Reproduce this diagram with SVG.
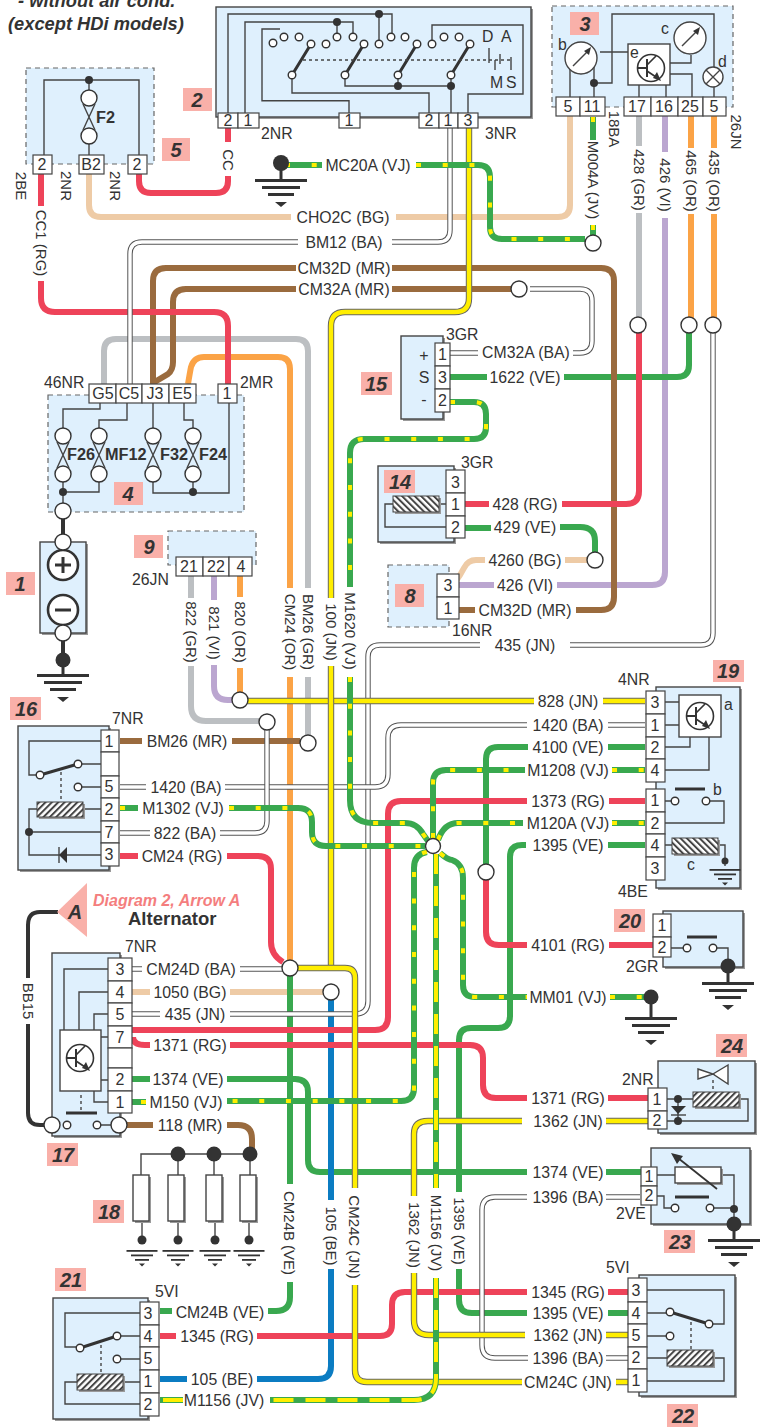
<svg xmlns="http://www.w3.org/2000/svg" width="771" height="1428" viewBox="0 0 771 1428">
<style>
text{font-family:"Liberation Sans",Arial,sans-serif;fill:#333}
.t{font-size:15.8px;text-anchor:middle}
.q{font-size:15px;text-anchor:middle}
.n{font-size:15.8px}
.c{font-size:16px;text-anchor:middle}
.p{font-size:20px;font-weight:bold;font-style:italic;text-anchor:middle}
.f{font-size:16.3px;font-weight:bold}
.pk{fill:#f9b0a9}
.w{fill:none;stroke-width:6}
.red{stroke:#ee4359}.org{stroke:#fba346}.grn{stroke:#39a84f}.brn{stroke:#9a6b3e}.tan{stroke:#eecba6}.vio{stroke:#bba6d0}.gry{stroke:#bcbfc2}.blu{stroke:#0b7cc2}.blk{stroke:#333;stroke-width:4}
.ba1{stroke:#555;stroke-width:5.4;fill:none}.ba2{stroke:#fff;stroke-width:3.4;fill:none}
.jn1{stroke:#666;stroke-width:6.4;fill:none}.jn2{stroke:#ffee00;stroke-width:4.4;fill:none}
.vj1{stroke:#39a84f;stroke-width:6;fill:none}.vj2{stroke:#ffee00;stroke-width:4;fill:none;stroke-dasharray:5 21.7}
.jv2{stroke:#ffee00;stroke-width:4;fill:none;stroke-dasharray:20 12}
.b{fill:#dff0fd;stroke:#444;stroke-width:1.4}
.sh{fill:#9a9a9a}
.d{fill:#dff0fd;stroke:#666;stroke-width:1.2;stroke-dasharray:5 4}
.cell{fill:#fff;stroke:#444;stroke-width:1.2}
.l{fill:none;stroke:#444;stroke-width:1.4}
.th{fill:none;stroke:#333;stroke-width:3}
.dot{fill:#333}
.o{fill:#fff;stroke:#333;stroke-width:1.4}
.j{fill:#fff;stroke:#333;stroke-width:1.4}
.dsh{fill:none;stroke:#444;stroke-width:1.4;stroke-dasharray:3 3}
.wb{fill:#fff;stroke:#444;stroke-width:1.4}
</style>
<defs>
<pattern id="h1" width="4.5" height="4.5" patternUnits="userSpaceOnUse" patternTransform="rotate(45)"><rect width="4.5" height="4.5" fill="#fff"/><rect width="2" height="4.5" fill="#444"/></pattern>
<pattern id="h2" width="4.5" height="4.5" patternUnits="userSpaceOnUse" patternTransform="rotate(-45)"><rect width="4.5" height="4.5" fill="#fff"/><rect width="2" height="4.5" fill="#444"/></pattern>
<g id="tr"><circle r="13.5" fill="#fff" stroke="#333" stroke-width="1.6"/><path d="M-13,0H-4M-4,-9V9" fill="none" stroke="#333" stroke-width="2"/><path d="M-4,-3L5,-12M-4,3L5,9" fill="none" stroke="#333" stroke-width="1.6"/><path d="M10,13L2,10L6,4Z" fill="#333"/></g>
<g id="gb"><rect x="-26" y="0" width="52" height="3" fill="#333"/><rect x="-19" y="7" width="38" height="3" fill="#333"/><rect x="-13" y="14" width="26" height="3" fill="#333"/><path d="M-6,23H6L0,28Z" fill="#333"/></g>
<g id="gs"><rect x="-15.500" y="0" width="31" height="1.800" fill="#333"/><rect x="-11" y="4.500" width="22" height="1.800" fill="#333"/><rect x="-7" y="9" width="14" height="1.800" fill="#333"/><path d="M-3,13.500H3L0,16.500Z" fill="#333"/></g>
<g id="fuse"><circle cy="-19" r="8" class="o"/><circle cy="19" r="8" class="o"/><path d="M-6,-13L6,13M6,-13L-6,13" class="l"/></g>
<path id="a1" d="M285,165H322M416,165H478Q490,165 490,177V227Q490,239 502,239H585"/>
<path id="a2" d="M593,117V140M593,225V235"/>
<path id="a3" d="M450,402H474Q486,402 486,414V427Q486,439 474,439H364Q350,439 350,453V587M350,677V800Q350,823 373,823H405Q417,823 423,834L428,841"/>
<path id="a4" d="M120,808H138M229,808H298Q312,808 312,822V832Q312,846 326,846H425"/>
<path id="a5" d="M433,838V783Q433,770 446,770H525M612,770H645"/>
<path id="a6" d="M438,840Q444,823 458,823H523M612,823H645"/>
<path id="a7" d="M427,852Q414,854 414,868V1088Q414,1101 401,1101H227M146,1102H132"/>
<path id="a8" d="M440,853Q448,860 452,860Q463,864 463,878V985Q463,997 475,997H527M610,997H650"/>
<path id="a9" d="M436,854V1188M436,1278V1378Q436,1400 414,1400H270M183,1400H160"/>
<path id="b1" d="M240,701H534M603,701H645"/>
<path id="b2" d="M469,128V298Q469,312 455,312H345Q331,312 331,326V598M331,666V968"/>
<path id="b3" d="M290,968H345Q355,968 355,978V1188M355,1285V1370Q355,1382 367,1382H522M616,1382H628"/>
<path id="b4" d="M522,1121H428Q414,1121 414,1134V1196M414,1273V1320Q414,1335 429,1335H525M606,1335H628M606,1121H648"/>
<path id="c1" d="M450,128V230Q450,242 438,242H392M298,242H142Q130,242 130,254V385"/>
<path id="c2" d="M530,289H580Q592,289 592,301V341Q592,353 580,353H573M478,353H450"/>
<path id="c3" d="M713,333V633Q713,645 701,645H570M480,645H380Q368,645 368,657V1001Q368,1014 355,1014H230M160,1014H132"/>
<path id="c4" d="M120,787H146M225,787H375Q388,787 388,774V738Q388,725 401,725H527M608,725H645"/>
<path id="c5" d="M120,833H150M220,833H255Q267,833 267,821V730"/>
<path id="c6" d="M132,969H142M240,969H283"/>
<path id="c7" d="M628,1358H606M528,1358H495Q482,1358 482,1345V1210Q482,1197 495,1197H527M606,1197H640"/>
</defs>
<g id="title"><text x="18" y="7" style="font-size:18.300px;font-weight:bold;font-style:italic">- without air cond.</text><text x="8" y="30" style="font-size:18.300px;font-weight:bold;font-style:italic">(except HDi models)</text></g>
<g id="connectors">
<g class="w">
<path class="tan" d="M89,173V205Q89,217 101,217H291M396,217H558Q570,217 570,205V116M132,992H150M230,992H325M565,560H588M485,560H476Q468,560 464,568Q460,576 455,582"/>
<path class="gry" d="M639,116V146M639,213V320M104,385V351Q104,339 116,339H296Q308,339 308,351V588M308,677V735M191,576V598M191,666V706Q191,721 206,721H259"/>
<path class="vio" d="M665,116V152M665,218V572Q665,585 652,585H557M494,585H459M214,576V600M214,665V686Q214,700 228,700H233"/>
<path class="org" d="M691,116V148M691,214V318M714,116V148M714,214V318M240,576V597M240,668V692M188,384Q190,372 191,367Q194,357 204,357H278Q290,357 290,369V588M290,677V962"/>
<path class="grn" d="M689,333V365Q689,377 677,377H564M487,377H450M465,528H491M560,527H580Q595,527 595,541V552M645,747H608M528,747H498Q486,747 486,759V865M290,976V1184M290,1282V1297Q290,1311 276,1311H268M172,1311H160M645,845H608M526,845H522Q510,845 510,857V1016Q510,1028 498,1028H471Q459,1028 459,1040V1192M459,1269V1300Q459,1313 472,1313H527M608,1313H628M132,1079H150M227,1079H295Q308,1079 308,1092V1160Q308,1172 320,1172H527M606,1172H642"/>
<path class="brn" d="M153,385V281Q153,268 166,268H296M392,268H601Q614,268 614,281V597Q614,610 601,610H576M475,610H459M153,383L168,374Q173,370 173,362V302Q173,289 186,289H296M392,289H512M120,741H142M232,741H300M127,1125H153M227,1125H238Q252,1125 252,1139V1150"/>
<path class="blu" d="M331,1000V1200M331,1269V1366Q331,1379 318,1379H257M187,1379H160"/>
<path class="red" d="M228,128V142M228,176V181Q228,193 216,193H151Q139,193 139,181V173M41,173V206M41,281V298Q41,312 55,312H214Q228,312 228,326V385M639,330V491Q639,504 626,504H562M489,504H465M120,856H138M227,856H258Q271,856 271,869V942Q271,955 283,962M486,880V932Q486,945 499,945H527M609,945H653M132,1030H375Q388,1030 388,1017V814Q388,801 401,801H527M609,801H645M133,1037Q133,1045 145,1045H150M230,1045H470Q483,1045 483,1058V1085Q483,1098 496,1098H527M608,1098H648M160,1336H176M257,1336H380Q392,1336 392,1324V1305Q392,1292 405,1292H527M608,1292H628"/>
<path class="blk" d="M44,1125H40Q28,1125 28,1113V1024M28,978V925Q28,912 40,912H58M63,519V535M63,641V660"/>
</g>
<g><use href="#c1" class="ba1"/><use href="#c1" class="ba2"/><use href="#c2" class="ba1"/><use href="#c2" class="ba2"/><use href="#c3" class="ba1"/><use href="#c3" class="ba2"/><use href="#c4" class="ba1"/><use href="#c4" class="ba2"/><use href="#c5" class="ba1"/><use href="#c5" class="ba2"/><use href="#c6" class="ba1"/><use href="#c6" class="ba2"/><use href="#c7" class="ba1"/><use href="#c7" class="ba2"/></g>
<g><use href="#b1" class="jn1"/><use href="#b1" class="jn2"/><use href="#b2" class="jn1"/><use href="#b2" class="jn2"/><use href="#b3" class="jn1"/><use href="#b3" class="jn2"/><use href="#b4" class="jn1"/><use href="#b4" class="jn2"/></g>
<g><use href="#a1" class="vj1"/><use href="#a1" class="vj2"/><use href="#a2" class="vj1"/><use href="#a2" class="vj2"/><use href="#a3" class="vj1"/><use href="#a3" class="vj2"/><use href="#a4" class="vj1"/><use href="#a4" class="vj2"/><use href="#a5" class="vj1"/><use href="#a5" class="vj2"/><use href="#a6" class="vj1"/><use href="#a6" class="vj2"/><use href="#a7" class="vj1"/><use href="#a7" class="vj2"/><use href="#a8" class="vj1"/><use href="#a8" class="vj2"/><use href="#a9" class="vj1"/><use href="#a9" class="jv2"/></g>
<g id="junctions"><circle class="j" cx="593" cy="243" r="8"/><circle class="j" cx="638" cy="325" r="8"/><circle class="j" cx="689" cy="325" r="8"/><circle class="j" cx="713" cy="325" r="8"/><circle class="j" cx="519" cy="289" r="8"/><circle class="j" cx="595" cy="560" r="8"/><circle class="j" cx="240" cy="700" r="8"/><circle class="j" cx="267" cy="722" r="8"/><circle class="j" cx="308" cy="743" r="8"/><circle class="j" cx="433" cy="846" r="7.500"/><circle class="j" cx="486" cy="872" r="8"/><circle class="j" cx="290" cy="968" r="8"/><circle class="j" cx="331" cy="992" r="8"/></g>
<g id="wire-labels">
<text class="t" x="368" y="171">MC20A (VJ)</text><text class="t" x="343" y="223">CHO2C (BG)</text><text class="t" x="344" y="248">BM12 (BA)</text><text class="t" x="344" y="274">CM32D (MR)</text><text class="t" x="344" y="295">CM32A (MR)</text><text class="t" x="526" y="358">CM32A (BA)</text><text class="t" x="525" y="383">1622 (VE)</text><text class="t" x="525" y="510">428 (RG)</text><text class="t" x="525" y="533">429 (VE)</text><text class="t" x="525" y="566">4260 (BG)</text><text class="t" x="525" y="591">426 (VI)</text><text class="t" x="525" y="616">CM32D (MR)</text><text class="t" x="525" y="651">435 (JN)</text>
<text class="t" x="568" y="707">828 (JN)</text><text class="t" x="568" y="731">1420 (BA)</text><text class="t" x="568" y="753">4100 (VE)</text><text class="t" x="568" y="776">M1208 (VJ)</text><text class="t" x="568" y="807">1373 (RG)</text><text class="t" x="568" y="829">M120A (VJ)</text><text class="t" x="568" y="851">1395 (VE)</text><text class="t" x="568" y="951">4101 (RG)</text><text class="t" x="568" y="1003">MM01 (VJ)</text><text class="t" x="568" y="1104">1371 (RG)</text><text class="t" x="568" y="1127">1362 (JN)</text><text class="t" x="568" y="1178">1374 (VE)</text><text class="t" x="568" y="1203">1396 (BA)</text><text class="t" x="568" y="1298">1345 (RG)</text><text class="t" x="568" y="1319">1395 (VE)</text><text class="t" x="568" y="1341">1362 (JN)</text><text class="t" x="568" y="1364">1396 (BA)</text><text class="t" x="568" y="1388">CM24C (JN)</text>
<text class="t" x="187" y="747">BM26 (MR)</text><text class="t" x="186" y="793">1420 (BA)</text><text class="t" x="183" y="814">M1302 (VJ)</text><text class="t" x="185" y="839">822 (BA)</text><text class="t" x="182" y="862">CM24 (RG)</text><text class="t" x="191" y="975">CM24D (BA)</text><text class="t" x="190" y="998">1050 (BG)</text><text class="t" x="195" y="1020">435 (JN)</text><text class="t" x="190" y="1051">1371 (RG)</text><text class="t" x="188" y="1085">1374 (VE)</text><text class="t" x="186" y="1108">M150 (VJ)</text><text class="t" x="190" y="1131">118 (MR)</text><text class="t" x="220" y="1318">CM24B (VE)</text><text class="t" x="217" y="1342">1345 (RG)</text><text class="t" x="222" y="1385">105 (BE)</text><text class="t" x="224" y="1406">M1156 (JV)</text>
<text class="q" transform="translate(228,160) rotate(90)" y="5.500">CC</text><text class="q" transform="translate(41,243) rotate(90)" y="5.500">CC1 (RG)</text><text class="q" transform="translate(593,180) rotate(90)" y="5.500">M004A (JV)</text><text class="q" transform="translate(639,180) rotate(90)" y="5.500">428 (GR)</text><text class="q" transform="translate(665,185) rotate(90)" y="5.500">426 (VI)</text><text class="q" transform="translate(691,181) rotate(90)" y="5.500">465 (OR)</text><text class="q" transform="translate(714,181) rotate(90)" y="5.500">435 (OR)</text><text class="q" transform="translate(191,632) rotate(90)" y="5.500">822 (GR)</text><text class="q" transform="translate(214,633) rotate(90)" y="5.500">821 (VI)</text><text class="q" transform="translate(240,632) rotate(90)" y="5.500">820 (OR)</text><text class="q" transform="translate(290,632) rotate(90)" y="5.500">CM24 (OR)</text><text class="q" transform="translate(308,632) rotate(90)" y="5.500">BM26 (GR)</text><text class="q" transform="translate(331,632) rotate(90)" y="5.500">100 (JN)</text><text class="q" transform="translate(350,631) rotate(90)" y="5.500">M1620 (VJ)</text><text class="q" transform="translate(331,1236) rotate(90)" y="5.500">105 (BE)</text><text class="q" transform="translate(289,1233) rotate(90)" y="5.500">CM24B (VE)</text><text class="q" transform="translate(354,1237) rotate(90)" y="5.500">CM24C (JN)</text><text class="q" transform="translate(414,1235) rotate(90)" y="5.500">1362 (JN)</text><text class="q" transform="translate(436,1233) rotate(90)" y="5.500">M1156 (JV)</text><text class="q" transform="translate(459,1231) rotate(90)" y="5.500">1395 (VE)</text><text class="q" transform="translate(28,1001) rotate(90)" y="5.500">BB15</text>
</g>
</g>
<g id="n2">
<rect class="sh" x="218" y="9" width="315" height="110"/><rect class="b" x="216" y="7" width="315" height="110"/>
<path class="l" d="M228,113V14H392V33M245,113V22H353V33M337,22V33M379,14V40M349,113V100.700H262V29H280M292,79V93H429V113M345,79V86H451M398,79V86M451,79V113M468,113V94H523V25H432V40"/>
<path class="th" d="M292,75L311,44M345,75L364,44M398,75L417,44M451,75L470,44"/>
<path class="dsh" style="stroke-width:1.6" d="M303,60H512"/>
<path class="l" d="M489,48V63M500,54V64M511,57V70M495,60V70"/>
<circle class="dot" cx="337" cy="22" r="4"/><circle class="dot" cx="379" cy="14" r="4"/><circle class="dot" cx="398" cy="86" r="4"/><circle class="dot" cx="451" cy="86" r="4"/>
<g><circle class="o" cx="273" cy="43" r="3.800"/><circle class="o" cx="284" cy="37" r="3.800"/><circle class="o" cx="299" cy="37" r="3.800"/><circle class="o" cx="311" cy="44" r="3.800"/><circle class="o" cx="326" cy="44" r="3.800"/><circle class="o" cx="337" cy="37" r="3.800"/><circle class="o" cx="353" cy="37" r="3.800"/><circle class="o" cx="364" cy="44" r="3.800"/><circle class="o" cx="379" cy="44" r="3.800"/><circle class="o" cx="391" cy="37" r="3.800"/><circle class="o" cx="405" cy="37" r="3.800"/><circle class="o" cx="417" cy="44" r="3.800"/><circle class="o" cx="432" cy="44" r="3.800"/><circle class="o" cx="444" cy="37" r="3.800"/><circle class="o" cx="459" cy="37" r="3.800"/><circle class="o" cx="470" cy="44" r="3.800"/><circle class="o" cx="292" cy="75" r="3.800"/><circle class="o" cx="345" cy="75" r="3.800"/><circle class="o" cx="398" cy="75" r="3.800"/><circle class="o" cx="451" cy="75" r="3.800"/></g>
<text class="n" x="482" y="42">D</text><text class="n" x="501" y="42">A</text><text class="n" x="490" y="88">M</text><text class="n" x="506" y="88">S</text>
<rect class="cell" x="218" y="113" width="20" height="15"/><rect class="cell" x="238" y="113" width="21" height="15"/><rect class="cell" x="339" y="113" width="21" height="15"/><rect class="cell" x="419" y="113" width="20" height="15"/><rect class="cell" x="439" y="113" width="19" height="15"/><rect class="cell" x="458" y="113" width="20" height="15"/>
<text class="c" x="228" y="126">2</text><text class="c" x="248" y="126">1</text><text class="c" x="349" y="126">1</text><text class="c" x="429" y="126">2</text><text class="c" x="448" y="126">1</text><text class="c" x="468" y="126">3</text>
<text class="n" x="261" y="139">2NR</text><text class="n" x="485" y="139">3NR</text>
<rect class="pk" x="183" y="88" width="29" height="23"/><text class="p" x="197" y="107">2</text>
</g>
<g id="n3">
<rect class="d" x="552" y="6" width="181" height="101"/>
<path class="l" d="M570,97V58M594,97V66M594,83H612V14H714V70M600,52H628M639,85V97M666,85V97M691,55V63H670M692,97V74H670M714,87V97"/>
<circle class="dot" cx="594" cy="83" r="4"/>
<circle cx="581" cy="58" r="16" fill="#fff" stroke="#444" stroke-width="1.400"/><path class="l" d="M573,66L589,50"/><path class="dot" d="M591,47L589,55L584,51Z"/>
<circle cx="690" cy="38" r="16" fill="#fff" stroke="#444" stroke-width="1.400"/><path class="l" d="M682,46L698,30"/><path class="dot" d="M700,27L698,35L693,31Z"/>
<circle cx="713" cy="77" r="10" fill="#fff" stroke="#444" stroke-width="1.400"/><path class="l" d="M706,70L720,84M720,70L706,84"/>
<rect class="wb" x="628" y="44" width="42" height="41"/><use href="#tr" x="651" y="68"/>
<text class="n" x="558" y="50">b</text><text class="n" x="661" y="34">c</text><text class="n" x="718" y="67">d</text><text class="n" x="630" y="58">e</text>
<rect class="cell" x="556" y="97" width="24" height="19"/><rect class="cell" x="580" y="97" width="25" height="19"/><rect class="cell" x="624" y="97" width="27" height="19"/><rect class="cell" x="651" y="97" width="27" height="19"/><rect class="cell" x="678" y="97" width="25" height="19"/><rect class="cell" x="703" y="97" width="23" height="19"/>
<text class="c" x="568" y="112">5</text><text class="c" x="592" y="112">11</text><text class="c" x="637" y="112">17</text><text class="c" x="664" y="112">16</text><text class="c" x="690" y="112">25</text><text class="c" x="714" y="112">5</text>
<text class="q" transform="translate(614,129) rotate(90)" y="5.500">18BA</text><text class="q" transform="translate(736,132) rotate(90)" y="5.500">26JN</text>
<rect class="pk" x="570" y="12" width="29" height="23"/><text class="p" x="585" y="31">3</text>
</g>
<g id="n5">
<rect class="d" x="26" y="68" width="128" height="96"/>
<path class="l" d="M44,155V80H139V155M89,80V90M89,144V155"/><circle class="dot" cx="89" cy="80" r="4"/>
<use href="#fuse" x="89" y="117"/><text class="f" x="96" y="123">F2</text>
<rect class="cell" x="33" y="155" width="19" height="19"/><rect class="cell" x="79" y="155" width="25" height="19"/><rect class="cell" x="128" y="155" width="19" height="19"/>
<text class="c" x="42" y="170">2</text><text class="c" x="91" y="170">B2</text><text class="c" x="137" y="170">2</text>
<text class="q" transform="translate(21,186) rotate(90)" y="5.500">2BE</text><text class="q" transform="translate(66,186) rotate(90)" y="5.500">2NR</text><text class="q" transform="translate(115,186) rotate(90)" y="5.500">2NR</text>
<rect class="pk" x="162" y="138" width="28" height="23"/><text class="p" x="176" y="157">5</text>
</g>
<g id="g-mc20"><circle class="dot" cx="281" cy="163" r="8"/><path class="th" d="M281,168V180"/><use href="#gb" x="281" y="179"/></g>
<g id="n4">
<rect class="d" x="48" y="395" width="196" height="117"/>
<path class="l" d="M100,403V409H63V428M127,403V420H99V428M153,403V428M184,403V420H193V428M63,482V503M63,492H99V482M153,482V493H229V403M193,482V493"/>
<circle class="dot" cx="63" cy="492" r="4"/><circle class="dot" cx="193" cy="492" r="4"/>
<use href="#fuse" x="63" y="455"/><use href="#fuse" x="99" y="455"/><use href="#fuse" x="153" y="455"/><use href="#fuse" x="193" y="455"/>
<text class="f" x="67" y="460">F26</text><text class="f" x="105" y="460">MF12</text><text class="f" x="160" y="460">F32</text><text class="f" x="199" y="460">F24</text>
<rect class="cell" x="89" y="384" width="27" height="19"/><rect class="cell" x="116" y="384" width="26" height="19"/><rect class="cell" x="142" y="384" width="27" height="19"/><rect class="cell" x="169" y="384" width="27" height="19"/><rect class="cell" x="218" y="384" width="19" height="19"/>
<text class="c" x="103" y="399">G5</text><text class="c" x="129" y="399">C5</text><text class="c" x="155" y="399">J3</text><text class="c" x="182" y="399">E5</text><text class="c" x="227" y="399">1</text>
<text class="n" x="44" y="388">46NR</text><text class="n" x="240" y="388">2MR</text>
<circle class="j" cx="63" cy="511" r="8"/>
<rect class="pk" x="114" y="482" width="29" height="23"/><text class="p" x="128" y="501">4</text>
</g>
<g id="n1">
<rect class="sh" x="42" y="544" width="46" height="91"/><rect class="b" x="40" y="542" width="46" height="91"/>
<circle cx="63" cy="565" r="15" fill="#fff" stroke="#333" stroke-width="2.600"/><path class="th" d="M55,565H71M63,557V573"/>
<circle cx="63" cy="610" r="15" fill="#fff" stroke="#333" stroke-width="2.600"/><path class="th" d="M55,610H71"/>
<circle class="j" cx="63" cy="542" r="8"/><circle class="j" cx="63" cy="633" r="8"/>
<circle class="dot" cx="63" cy="660" r="7.500"/><path class="th" d="M63,665V675"/><use href="#gb" x="63" y="674"/>
<rect class="pk" x="6" y="572" width="29" height="23"/><text class="p" x="20" y="591">1</text>
</g>
<g id="n9">
<rect class="d" x="168" y="531" width="88" height="34"/>
<rect class="cell" x="176" y="557" width="27" height="19"/><rect class="cell" x="203" y="557" width="26" height="19"/><rect class="cell" x="229" y="557" width="23" height="19"/>
<text class="c" x="189" y="572">21</text><text class="c" x="216" y="572">22</text><text class="c" x="241" y="572">4</text>
<text class="n" x="132" y="585">26JN</text>
<rect class="pk" x="134" y="535" width="29" height="23"/><text class="p" x="149" y="554">9</text>
</g>
<g id="n15">
<rect class="sh" x="403" y="338" width="42" height="83"/><rect class="b" x="401" y="336" width="42" height="83"/>
<text class="c" x="424" y="361">+</text><text class="c" x="424" y="383">S</text><text class="c" x="424" y="405">-</text>
<rect class="cell" x="435" y="343" width="15" height="23"/><rect class="cell" x="435" y="366" width="15" height="23"/><rect class="cell" x="435" y="389" width="15" height="23"/>
<text class="c" x="442.500" y="360">1</text><text class="c" x="442.500" y="383">3</text><text class="c" x="442.500" y="406">2</text>
<text class="n" x="446" y="340">3GR</text>
<rect class="pk" x="361" y="372" width="31" height="23"/><text class="p" x="376" y="391">15</text>
</g>
<g id="n14">
<rect class="sh" x="380" y="468" width="76" height="76"/><rect class="b" x="378" y="466" width="76" height="76"/>
<path class="l" d="M439,504H446M393,504H385V527H446"/>
<rect class="sh" x="395" y="498" width="46" height="16"/><rect x="393" y="496" width="46" height="16" fill="url(#h2)" stroke="#444"/>
<rect class="cell" x="446" y="470" width="19" height="23"/><rect class="cell" x="446" y="493" width="19" height="23"/><rect class="cell" x="446" y="516" width="19" height="22"/>
<text class="c" x="455.500" y="488">3</text><text class="c" x="455.500" y="510">1</text><text class="c" x="455.500" y="533">2</text>
<text class="n" x="461" y="468">3GR</text>
<rect class="pk" x="384" y="470" width="31" height="23"/><text class="p" x="400" y="489">14</text>
</g>
<g id="n8">
<rect class="d" x="388" y="565" width="61" height="62"/>
<rect class="cell" x="437" y="574" width="22" height="23"/><rect class="cell" x="437" y="597" width="22" height="22"/>
<text class="c" x="448" y="591">3</text><text class="c" x="448" y="614">1</text>
<text class="n" x="452" y="636">16NR</text>
<rect class="pk" x="395" y="584" width="29" height="23"/><text class="p" x="410" y="603">8</text>
</g>
<g id="n16">
<rect class="sh" x="20" y="728" width="91" height="144"/><rect class="b" x="18" y="726" width="91" height="144"/>
<path class="l" d="M101,741H29V775H40M78,764H101M78,787H101M83,809H101M37,809H29V855H101M29,832H101"/>
<path class="th" d="M40,775L78,764"/><path class="dsh" d="M61,772V802"/>
<rect class="sh" x="39" y="804" width="46" height="15"/><rect x="37" y="802" width="46" height="15" fill="url(#h1)" stroke="#444"/>
<circle class="dot" cx="29" cy="832" r="4"/><path class="dot" d="M59,855L67,847V863Z"/><path class="l" d="M59,847V863"/>
<circle class="o" cx="40" cy="775" r="3.800"/><circle class="o" cx="78" cy="764" r="3.800"/><circle class="o" cx="78" cy="787" r="3.800"/>
<rect class="cell" x="101" y="730" width="18" height="22"/><rect class="cell" x="101" y="752" width="18" height="24"/><rect class="cell" x="101" y="776" width="18" height="22"/><rect class="cell" x="101" y="798" width="18" height="23"/><rect class="cell" x="101" y="821" width="18" height="22"/><rect class="cell" x="101" y="843" width="18" height="23"/>
<text class="c" x="109" y="747">1</text><text class="c" x="109" y="792">5</text><text class="c" x="109" y="815">2</text><text class="c" x="109" y="838">7</text><text class="c" x="109" y="860">3</text>
<text class="n" x="112" y="724">7NR</text>
<rect class="pk" x="10" y="697" width="31" height="23"/><text class="p" x="26" y="716">16</text>
</g>
<g id="n19">
<rect class="sh" x="658" y="689" width="84" height="201"/><rect class="b" x="656" y="687" width="84" height="201"/>
<path class="l" d="M665,702H679M665,725H679M665,747H690V737M665,770H709V737M665,801H675M706,801H724V823H665M665,845H672M717,845H725V866"/>
<rect class="wb" x="679" y="695" width="42" height="42"/><use href="#tr" x="700" y="716"/>
<text class="n" x="724" y="710">a</text>
<path class="th" d="M675,789H705"/><circle class="o" cx="675" cy="801" r="3.800"/><circle class="o" cx="706" cy="801" r="3.800"/><text class="n" x="713" y="795">b</text>
<rect class="sh" x="674" y="840" width="46" height="16"/><rect x="672" y="838" width="46" height="16" fill="url(#h2)" stroke="#444"/><text class="n" x="687" y="870">c</text>
<circle class="dot" cx="725" cy="861" r="3.500"/><use href="#gs" x="725" y="869"/>
<rect class="cell" x="646" y="691" width="19" height="23"/><rect class="cell" x="646" y="714" width="19" height="23"/><rect class="cell" x="646" y="737" width="19" height="22"/><rect class="cell" x="646" y="759" width="19" height="23"/><rect class="cell" x="646" y="789" width="19" height="23"/><rect class="cell" x="646" y="812" width="19" height="22"/><rect class="cell" x="646" y="834" width="19" height="23"/><rect class="cell" x="646" y="857" width="19" height="23"/>
<text class="c" x="655" y="708">3</text><text class="c" x="655" y="731">1</text><text class="c" x="655" y="753">2</text><text class="c" x="655" y="776">4</text><text class="c" x="655" y="806">1</text><text class="c" x="655" y="829">2</text><text class="c" x="655" y="851">4</text><text class="c" x="655" y="874">3</text>
<text class="n" x="618" y="685">4NR</text><text class="n" x="618" y="897">4BE</text>
<rect class="pk" x="713" y="660" width="31" height="22"/><text class="p" x="728" y="678">19</text>
</g>
<g id="n20">
<rect class="sh" x="665" y="913" width="80" height="56"/><rect class="b" x="663" y="911" width="80" height="56"/>
<path class="l" d="M671,948H683M717,948H728V966"/><path class="th" d="M687,937H717"/>
<circle class="o" cx="687" cy="948" r="3.800"/><circle class="o" cx="713" cy="948" r="3.800"/>
<circle class="dot" cx="728" cy="966" r="7.500"/><path class="th" d="M728,970V983"/><use href="#gb" x="728" y="982"/>
<rect class="cell" x="653" y="914" width="18" height="23"/><rect class="cell" x="653" y="937" width="18" height="20"/>
<text class="c" x="662" y="931">1</text><text class="c" x="662" y="953">2</text>
<text class="n" x="626" y="972">2GR</text>
<rect class="pk" x="614" y="909" width="31" height="23"/><text class="p" x="630" y="928">20</text>
</g>
<g id="g-mm01"><circle class="dot" cx="651" cy="997" r="7.500"/><path class="th" d="M651,1003V1018"/><use href="#gb" x="651" y="1017"/></g>
<g id="arrow-a"><path class="pk" d="M57,912L87,883V937Z"/><text class="p" x="75" y="919">A</text>
<text x="93" y="906" style="font-size:16px;font-weight:bold;font-style:italic;fill:#f47e7e">Diagram 2, Arrow A</text>
<text x="128" y="925" style="font-size:18.500px;font-weight:bold">Alternator</text></g>
<g id="n17">
<rect class="sh" x="54" y="955" width="68" height="183"/><rect class="b" x="52" y="953" width="68" height="183"/>
<path class="l" d="M108,969H64V1030M108,992H79V1030M108,1014H94V1030M101,1037H108M101,1080H108M94,1091V1102H108M97,1125H119"/>
<rect class="wb" x="60" y="1030" width="41" height="61"/><use href="#tr" x="80" y="1058"/>
<path class="dsh" d="M81,1095V1111"/><path class="th" d="M66,1113H97"/>
<circle class="o" cx="67" cy="1125" r="3.800"/><circle class="o" cx="97" cy="1125" r="3.800"/>
<circle class="j" cx="52" cy="1125" r="8"/><circle class="j" cx="119" cy="1125" r="8"/>
<rect class="cell" x="108" y="958" width="24" height="23"/><rect class="cell" x="108" y="981" width="24" height="22"/><rect class="cell" x="108" y="1003" width="24" height="23"/><rect class="cell" x="108" y="1026" width="24" height="22"/><rect class="cell" x="108" y="1048" width="24" height="20"/><rect class="cell" x="108" y="1068" width="24" height="23"/><rect class="cell" x="108" y="1091" width="24" height="22"/>
<text class="c" x="120" y="975">3</text><text class="c" x="120" y="998">4</text><text class="c" x="120" y="1020">5</text><text class="c" x="120" y="1043">7</text><text class="c" x="120" y="1085">2</text><text class="c" x="120" y="1108">1</text>
<text class="n" x="125" y="952">7NR</text>
<rect class="pk" x="47" y="1143" width="31" height="23"/><text class="p" x="63" y="1162">17</text>
</g>
<g id="n18">
<path class="l" d="M141,1175V1154H250M178,1154V1175M214,1154V1175M250,1154V1175M142,1221V1240M178,1221V1240M215,1221V1240M249,1221V1240"/>
<circle class="dot" cx="178" cy="1154" r="7.500"/><circle class="dot" cx="214" cy="1154" r="7.500"/><circle class="dot" cx="250" cy="1154" r="7.500"/>
<rect class="sh" x="135" y="1177" width="16" height="46"/><rect class="sh" x="170" y="1177" width="16" height="46"/><rect class="sh" x="208" y="1177" width="16" height="46"/><rect class="sh" x="242" y="1177" width="16" height="46"/>
<rect class="wb" x="133" y="1175" width="16" height="46"/><rect class="wb" x="168" y="1175" width="16" height="46"/><rect class="wb" x="206" y="1175" width="16" height="46"/><rect class="wb" x="240" y="1175" width="16" height="46"/>
<circle class="dot" cx="142" cy="1240" r="4.500"/><circle class="dot" cx="178" cy="1240" r="4.500"/><circle class="dot" cx="215" cy="1240" r="4.500"/><circle class="dot" cx="249" cy="1240" r="4.500"/>
<use href="#gs" x="142" y="1250"/><use href="#gs" x="178" y="1250"/><use href="#gs" x="215" y="1250"/><use href="#gs" x="249" y="1250"/>
<rect class="pk" x="93" y="1200" width="31" height="23"/><text class="p" x="109" y="1219">18</text>
</g>
<g id="n21">
<rect class="sh" x="55" y="1300" width="95" height="121"/><rect class="b" x="53" y="1298" width="95" height="121"/>
<path class="l" d="M140,1313H65V1347H80M117,1336H140M117,1359H140M123,1382H140M77,1382H65V1404H140"/>
<path class="th" d="M80,1348L117,1336"/><path class="dsh" d="M101,1345V1374"/>
<rect class="sh" x="79" y="1376" width="46" height="16"/><rect x="77" y="1374" width="46" height="16" fill="url(#h1)" stroke="#444"/>
<circle class="o" cx="80" cy="1348" r="3.800"/><circle class="o" cx="117" cy="1336" r="3.800"/><circle class="o" cx="117" cy="1359" r="3.800"/>
<rect class="cell" x="140" y="1302" width="19" height="23"/><rect class="cell" x="140" y="1325" width="19" height="22"/><rect class="cell" x="140" y="1347" width="19" height="23"/><rect class="cell" x="140" y="1370" width="19" height="23"/><rect class="cell" x="140" y="1393" width="19" height="23"/>
<text class="c" x="148" y="1319">3</text><text class="c" x="148" y="1342">4</text><text class="c" x="148" y="1364">5</text><text class="c" x="148" y="1387">1</text><text class="c" x="148" y="1410">2</text>
<text class="n" x="155" y="1297">5VI</text>
<rect class="pk" x="55" y="1268" width="31" height="23"/><text class="p" x="71" y="1287">21</text>
</g>
<g id="n22">
<rect class="sh" x="641" y="1277" width="96" height="121"/><rect class="b" x="639" y="1275" width="96" height="121"/>
<path class="l" d="M647,1290H724V1324H709M647,1313H670M647,1336H670M647,1358H667M713,1358H724V1381H647"/>
<path class="th" d="M670,1312L709,1324"/><path class="dsh" d="M691,1322V1350"/>
<rect class="sh" x="669" y="1352" width="46" height="16"/><rect x="667" y="1350" width="46" height="16" fill="url(#h1)" stroke="#444"/>
<circle class="o" cx="670" cy="1312" r="3.800"/><circle class="o" cx="709" cy="1324" r="3.800"/><circle class="o" cx="670" cy="1336" r="3.800"/>
<rect class="cell" x="628" y="1278" width="19" height="24"/><rect class="cell" x="628" y="1302" width="19" height="22"/><rect class="cell" x="628" y="1324" width="19" height="23"/><rect class="cell" x="628" y="1347" width="19" height="22"/><rect class="cell" x="628" y="1369" width="19" height="23"/>
<text class="c" x="636" y="1296">3</text><text class="c" x="636" y="1319">4</text><text class="c" x="636" y="1341">5</text><text class="c" x="636" y="1363">2</text><text class="c" x="636" y="1386">1</text>
<text class="n" x="606" y="1273">5VI</text>
<rect class="pk" x="667" y="1404" width="31" height="23"/><text class="p" x="683" y="1423">22</text>
</g>
<g id="n23">
<rect class="sh" x="653" y="1150" width="99" height="76"/><rect class="b" x="651" y="1148" width="99" height="76"/>
<path class="l" d="M657,1175H675M721,1175H734V1224M657,1196H664V1208H672M713,1208H734"/>
<rect class="sh" x="677" y="1169" width="46" height="16"/><rect class="wb" x="675" y="1167" width="46" height="16"/>
<path class="th" style="stroke-width:1.800" d="M678,1158L717,1189"/><path class="dot" d="M671,1153L683,1156L677,1164Z"/>
<path class="th" d="M675,1197H709"/>
<circle class="o" cx="675" cy="1208" r="3.800"/><circle class="o" cx="710" cy="1208" r="3.800"/>
<circle class="dot" cx="734" cy="1209" r="4"/><circle class="dot" cx="734" cy="1224" r="7.500"/><path class="th" d="M734,1228V1240"/><use href="#gb" x="734" y="1239"/>
<rect class="cell" x="641" y="1167" width="16" height="19"/><rect class="cell" x="641" y="1186" width="16" height="19"/>
<text class="c" x="649" y="1182">1</text><text class="c" x="649" y="1201">2</text>
<text class="n" x="616" y="1219">2VE</text>
<rect class="pk" x="664" y="1230" width="31" height="23"/><text class="p" x="680" y="1249">23</text>
</g>
<g id="n24">
<rect class="sh" x="660" y="1063" width="97" height="72"/><rect class="b" x="658" y="1061" width="97" height="72"/>
<path class="l" d="M667,1099H693M738,1099H748V1121H667M678,1099V1121"/>
<path class="wb" style="fill:#fff" d="M698,1069L713,1074L698,1079ZM728,1065L713,1074L728,1084Z"/>
<path class="dsh" d="M713,1080V1092"/>
<rect class="sh" x="695" y="1094" width="46" height="15"/><rect x="693" y="1092" width="46" height="15" fill="url(#h1)" stroke="#444"/>
<path class="dot" d="M671,1106H686L678,1114Z"/><path class="l" d="M671,1115H686"/>
<circle class="dot" cx="678" cy="1099" r="4"/><circle class="dot" cx="678" cy="1121" r="4"/>
<rect class="cell" x="648" y="1088" width="19" height="23"/><rect class="cell" x="648" y="1111" width="19" height="18"/>
<text class="c" x="657" y="1105">1</text><text class="c" x="657" y="1126">2</text>
<text class="n" x="622" y="1085">2NR</text>
<rect class="pk" x="716" y="1034" width="31" height="23"/><text class="p" x="732" y="1053">24</text>
</g>
</svg>
